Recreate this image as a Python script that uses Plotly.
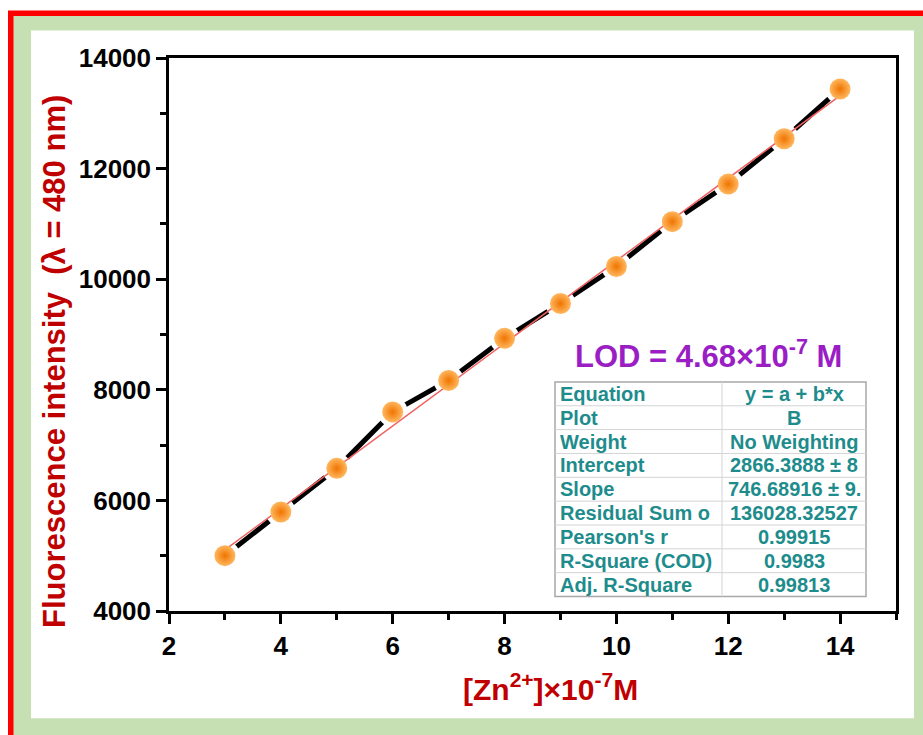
import plotly.graph_objects as go

# ---- data ----
conc = [3, 4, 5, 6, 7, 8, 9, 10, 11, 12, 13, 14]
intensity = [5000, 5790, 6580, 7600, 8170, 8930, 9560, 10230, 11040, 11720, 12540, 13440]
intercept = 2866.3888
slope = 746.68916
fit_x = [3, 14]
fit_y = [intercept + slope * v for v in fit_x]

table_labels = ["Equation", "Plot", "Weight", "Intercept", "Slope", "Residual Sum o",
                "Pearson's r", "R-Square (COD)", "Adj. R-Square"]
table_values = ["y = a + b*x", "B", "No Weighting", "2866.3888 ± 8", "746.68916 ± 9.",
                "136028.32527", "0.99915", "0.9983", "0.99813"]

x_ticks = [2, 4, 6, 8, 10, 12, 14]
y_ticks = [4000, 6000, 8000, 10000, 12000, 14000]

W, H = 923, 735
L, R, T, B = 169, 27, 57.5, 123.5
PW, PH = W - L - R, H - T - B

def px(x):
    return (x - L) / PW

def py(y):
    return (H - B - y) / PH

FONT = "Arial, Liberation Sans, sans-serif"
TEAL = "#1e8c8c"
RED = "#c00000"

fig = go.Figure()

# black connecting line
fig.add_trace(go.Scatter(x=conc, y=intensity, mode="lines",
                         line=dict(color="black", width=5), hoverinfo="skip"))
# white gaps around points
fig.add_trace(go.Scatter(x=conc, y=intensity, mode="markers",
                         marker=dict(color="white", size=30, line=dict(width=0)),
                         hoverinfo="skip"))
# linear fit
fig.add_trace(go.Scatter(x=fit_x, y=fit_y, mode="lines",
                         line=dict(color="#f06060", width=1.5), hoverinfo="skip"))
# points
fig.add_trace(go.Scatter(x=conc, y=intensity, mode="markers",
                         marker=dict(color="#ffb860", size=21,
                                     gradient=dict(type="radial", color="#f07400"),
                                     line=dict(width=0))))

shapes = [
    dict(type="rect", xref="paper", yref="paper", layer="below",
         x0=px(8), x1=px(940), y0=py(760), y1=py(10),
         fillcolor="#ff0000", line=dict(width=0)),
    dict(type="rect", xref="paper", yref="paper", layer="below",
         x0=px(13.5), x1=px(940), y0=py(760), y1=py(15.5),
         fillcolor="#c6e0b4", line=dict(width=0)),
    dict(type="rect", xref="paper", yref="paper", layer="below",
         x0=px(31), x1=px(914), y0=py(719), y1=py(30),
         fillcolor="white", line=dict(width=0)),
]

# ---- fit-result table (shapes + text) ----
TL, TR, TD, TT, TBm = 555, 866, 722, 382, 597
n_rows = len(table_labels)
row_h = (TBm - TT) / n_rows
shapes.append(dict(type="rect", xref="paper", yref="paper",
                   x0=px(TL), x1=px(TR), y0=py(TBm), y1=py(TT),
                   fillcolor="white", line=dict(color="#a8a8a8", width=1.5)))
for i in range(1, n_rows):
    yy = py(TT + i * row_h)
    shapes.append(dict(type="line", xref="paper", yref="paper",
                       x0=px(TL), x1=px(TR), y0=yy, y1=yy,
                       line=dict(color="#d4d4d4", width=1)))
shapes.append(dict(type="line", xref="paper", yref="paper",
                   x0=px(TD), x1=px(TD), y0=py(TBm), y1=py(TT),
                   line=dict(color="#d4d4d4", width=1)))

annotations = [
    dict(text="Fluorescence intensity  (λ = 480 nm)", xref="paper", yref="paper",
         x=px(55), y=py(362), textangle=-90, showarrow=False,
         xanchor="center", yanchor="middle",
         font=dict(family=FONT, size=31, color=RED, weight="bold")),
    dict(text="[Zn<sup>2+</sup>]×10<sup>-7</sup>M", xref="paper", yref="paper",
         x=px(550), y=py(688), showarrow=False,
         xanchor="center", yanchor="middle",
         font=dict(family=FONT, size=30, color=RED, weight="bold")),
    dict(text="LOD = 4.68×10<sup>-7</sup> M", xref="paper", yref="paper",
         x=px(708), y=py(354), showarrow=False,
         xanchor="center", yanchor="middle",
         font=dict(family=FONT, size=31, color="#9a1ec4", weight="bold")),
]
for i, (lab, val) in enumerate(zip(table_labels, table_values)):
    yc = py(TT + (i + 0.5) * row_h)
    annotations.append(dict(text=lab, xref="paper", yref="paper",
                            x=px(TL + 3), y=yc, xanchor="left", yanchor="middle",
                            showarrow=False,
                            font=dict(family=FONT, size=20, color=TEAL, weight="bold")))
    annotations.append(dict(text=val, xref="paper", yref="paper",
                            x=px((TD + TR) / 2), y=yc, xanchor="center", yanchor="middle",
                            showarrow=False,
                            font=dict(family=FONT, size=20, color=TEAL, weight="bold")))

axis_common = dict(showline=True, linewidth=2.5, linecolor="black", mirror=True,
                   ticks="outside", ticklen=10, tickwidth=2.5, tickcolor="black",
                   showgrid=False, zeroline=False, tickformat="d",
                   tickfont=dict(family=FONT, size=26, color="black", weight="bold"))

fig.update_layout(
    width=W, height=H,
    margin=dict(l=L, r=R, t=T, b=B, pad=0),
    paper_bgcolor="white", plot_bgcolor="white",
    showlegend=False,
    shapes=shapes, annotations=annotations,
    xaxis=dict(range=[2, 15], tickmode="array", tickvals=x_ticks,
               minor=dict(dtick=1, tick0=0, ticks="outside", ticklen=6,
                          tickwidth=2.5, tickcolor="black"),
               **axis_common),
    yaxis=dict(range=[4000, 14000], tickmode="array", tickvals=y_ticks,
               minor=dict(dtick=1000, tick0=0, ticks="outside", ticklen=6,
                          tickwidth=2.5, tickcolor="black"),
               **axis_common),
)

fig.write_html("out.html")
